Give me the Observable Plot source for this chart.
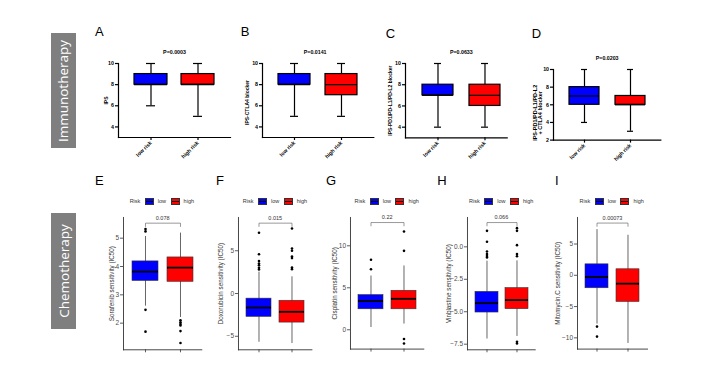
<!DOCTYPE html>
<html><head><meta charset="utf-8">
<script src="https://cdn.jsdelivr.net/npm/d3@7"></script>
<script src="https://cdn.jsdelivr.net/npm/@observablehq/plot@0.6"></script>
<style>
body{margin:0;background:#fff;}
#fig{position:relative;width:714px;height:379px;overflow:hidden;background:#fff;font-family:"Liberation Sans",Arial,sans-serif;}
.abs{position:absolute;}
.abs svg{display:block;background:transparent;}
.letter{position:absolute;font-size:13px;line-height:1;color:#000;}
.side{position:absolute;background:#7f7f7f;display:flex;align-items:center;justify-content:center;}
.side span{display:block;transform:rotate(-90deg);white-space:nowrap;font-family:"Open Sans",sans-serif;font-size:13.5px;color:#fff;}
.legend{position:absolute;display:flex;align-items:center;justify-content:center;font-size:5.5px;color:#333;height:8px;line-height:1;}
.key{display:inline-block;width:7px;height:5px;border:0.6px solid #333;margin:0 4px 0 4.5px;}
</style>
</head><body>
<div id="fig"></div>
<script>
// ---------------- data ----------------
const sideLabels = ["Immunotherapy", "Chemotherapy"];
const riskGroups = ["low risk", "high risk"];
const immunoLetters = ["A", "B", "C", "D"];
const immunoPValues = ["P=0.0003", "P=0.0141", "P=0.0633", "P=0.0203"];
const immunoYLabels = ["IPS", "IPS-CTLA4 blocker", "IPS-PD1/PD-L1/PD-L2 blocker", "IPS-PD1/PD-L1/PD-L2\n+ CTLA4 blocker"];
const immunoYDomains = [[3, 10], [3, 10], [3, 10], [2, 10]];
const immunoYTicks = [[4, 6, 8, 10], [4, 6, 8, 10], [4, 6, 8, 10], [2, 4, 6, 8, 10]];
// [whisker low, q1, median, q3, whisker high]
const immunoLowStats = [[6, 8, 8, 9, 10], [5, 8, 8, 9, 10], [4, 7, 7, 8, 10], [4, 6, 7, 8, 10]];
const immunoHighStats = [[5, 8, 8, 9, 10], [5, 7, 8, 9, 10], [4, 6, 7, 8, 10], [3, 6, 6, 7, 10]];

const chemoLetters = ["E", "F", "G", "H", "I"];
const chemoGroups = ["low", "high"];
const legendTitle = "Risk";
const chemoYLabels = ["Sorafenib sensitivity (IC50)", "Doxorubicin sensitivity (IC50)", "Cisplatin sensitivity (IC50)", "Vinblastine sensitivity (IC50)", "Mitomycin.C sensitivity (IC50)"];
const chemoPValues = ["0.078", "0.015", "0.22", "0.066", "0.00073"];
const chemoYDomains = [[1.06, 5.73], [-6.58, 8.89], [-2.3, 13.37], [-7.93, 2.26], [-11.8, 9.24]];
const chemoYTicks = [[2, 3, 4, 5], [-5, 0, 5], [0, 5, 10], [-7.5, -5, -2.5, 0], [-10, -5, 0, 5]];
const chemoYTickFormats = ["d", "d", "d", ".1f", "d"];
const chemoBracketY = [5.53, 8.23, 12.77, 1.87, 8.35];
const chemoLowStats = [[2.6, 3.49, 3.82, 4.18, 5.06], [-5.7, -2.73, -1.64, -0.6, 2.5], [0.27, 2.44, 3.42, 4.13, 6.4], [-7.1, -5.06, -4.34, -3.47, -1.1], [-7.8, -2.07, -0.27, 1.75, 7.3]];
const chemoHighStats = [[2.2, 3.46, 3.96, 4.32, 5.18], [-5.85, -3.4, -2.14, -0.85, 1.95], [0.68, 2.44, 3.69, 4.64, 7.6], [-6.9, -4.8, -4.1, -3.18, -1.08], [-10.9, -4.26, -1.34, 0.96, 6.4]];
const chemoLowOutliers = [[5.32, 5.24, 2.47, 1.7], [7.1, 4.6, 3.8, 3.5, 3.3, 3.0, 2.8], [8.33, 7.2], [1.23, 0.39, -0.36, -0.55, -0.7, -0.82], [-8.2, -9.8]];
const chemoHighOutliers = [[2.1, 2.03, 1.97, 1.92, 1.72, 1.3], [7.6, 5.26, 5.0, 4.33, 4.14, 3.04, 2.85], [11.7, 9.4, -1.1, -1.63], [1.44, 1.23, 0.13, -0.56, -0.72, -7.32, -7.45], []];

// ---------------- styles / layout ----------------
const riskColors = ["#0000ff", "#ff0000"];
const immunoLayout = [
  {fx: [118, 230], fy: [63.3, 137.3], pi: 0.305, po: 0.33, align: 0.5, titleDx: 0, labelOff: 12.3, labelDy: 0, labelSize: 5, letter: [95, 25]},
  {fx: [262, 373.3], fy: [62.7, 136.7], pi: 0.31, po: 0.316, align: 0.49, titleDx: -3, labelOff: 15.3, labelDy: 2, labelSize: 5, letter: [240.7, 25.3]},
  {fx: [405, 506.7], fy: [62.7, 137], pi: 0.33, po: 0.229, align: 0.717, titleDx: 5, labelOff: 15, labelDy: 0, labelSize: 5, letter: [385.7, 26.6]},
  {fx: [552.7, 660], fy: [68.7, 139.3], pi: 0.35, po: 0.335, align: 0.5, titleDx: 0, labelOff: 15.7, labelDy: 8, labelSize: 5.5, letter: [531.7, 26.6]}
];
const chemoLayout = [
  {fx: [122.7, 201], fy: [216.7, 349], labelOff: 11.7, letter: [95, 174]},
  {fx: [238.3, 311.7], fy: [216.7, 349], labelOff: 17.3, letter: [216, 174]},
  {fx: [350, 423.3], fy: [216.7, 348.3], labelOff: 16, letter: [326, 174]},
  {fx: [467.3, 535], fy: [216.7, 349], labelOff: 19, letter: [437.3, 174]},
  {fx: [576.7, 646.7], fy: [216.7, 348.3], labelOff: 19.4, letter: [555, 174.3]}
];
const sideLayout = [[51, 33, 25, 115], [51, 213, 25, 116]];

const fig = document.getElementById("fig");
function place(node, left, top, cls) {
  const d = document.createElement("div");
  d.className = cls || "abs";
  d.style.left = left + "px";
  d.style.top = top + "px";
  d.appendChild(node);
  fig.appendChild(d);
  return d;
}
function letter(txt, pos) {
  const d = document.createElement("div");
  d.className = "letter";
  d.textContent = txt;
  d.style.left = pos[0] + "px";
  d.style.top = pos[1] + "px";
  fig.appendChild(d);
}
function toRows(groups, lowS, highS) {
  return groups.map((g, k) => {
    const s = k === 0 ? lowS : highS;
    return {group: g, lo: s[0], q1: s[1], med: s[2], q3: s[3], hi: s[4]};
  });
}

// side labels
sideLabels.forEach((t, i) => {
  const [l, tp, w, h] = sideLayout[i];
  const d = document.createElement("div");
  d.className = "side";
  Object.assign(d.style, {left: l + "px", top: tp + "px", width: w + "px", height: h + "px"});
  const s = document.createElement("span");
  s.textContent = t;
  d.appendChild(s);
  fig.appendChild(d);
});

// ---------------- immunotherapy panels ----------------
immunoLetters.forEach((lt, i) => {
  const L = immunoLayout[i];
  const ml = 40, mr = 6, mt = 18, mb = 30;
  const width = L.fx[1] - L.fx[0] + ml + mr;
  const height = L.fy[1] - L.fy[0] + mt + mb;
  const rows = toRows(riskGroups, immunoLowStats[i], immunoHighStats[i]);
  const svg = Plot.plot({
    width, height, marginLeft: ml, marginRight: mr, marginTop: mt, marginBottom: mb,
    style: {fontFamily: "Liberation Sans, Arial, sans-serif", fontSize: "5.3px", fontWeight: "bold", background: "transparent", color: "#000", overflow: "visible"},
    x: {type: "band", domain: riskGroups, paddingInner: L.pi, paddingOuter: L.po, align: L.align},
    y: {domain: immunoYDomains[i], nice: false},
    color: {domain: riskGroups, range: riskColors},
    marks: [
      Plot.ruleX(rows, {x: "group", y1: "lo", y2: "hi", stroke: "#000", strokeWidth: 1.2}),
      Plot.tickY(rows, {x: "group", y: "lo", insetLeft: 12, insetRight: 12, stroke: "#000", strokeWidth: 1.2}),
      Plot.tickY(rows, {x: "group", y: "hi", insetLeft: 12, insetRight: 12, stroke: "#000", strokeWidth: 1.2}),
      Plot.barY(rows, {x: "group", y1: "q1", y2: "q3", fill: "group", stroke: "#000", strokeWidth: 1.2}),
      Plot.tickY(rows, {x: "group", y: "med", stroke: "#000", strokeWidth: 1.2}),
      Plot.frame({anchor: "left", stroke: "#000", strokeWidth: 1.2}),
      Plot.frame({anchor: "bottom", stroke: "#000", strokeWidth: 1.2}),
      Plot.axisY({ticks: immunoYTicks[i], tickFormat: "d", tickSize: 3, tickPadding: 1.5, label: null, stroke: "#000", strokeWidth: 1.2}),
      Plot.axisX({tickRotate: -45, tickSize: 3, tickPadding: 1.5, label: null, stroke: "#000", strokeWidth: 1.2, fill: "#000"}),
      Plot.text([immunoYLabels[i]], {frameAnchor: "left", rotate: -90, dx: -L.labelOff, dy: L.labelDy, text: d => d, fontSize: L.labelSize, lineAnchor: "middle", textAnchor: "middle", lineHeight: 0.9}),
      Plot.text([immunoPValues[i]], {frameAnchor: "top", dy: -11, dx: L.titleDx, text: d => d, lineAnchor: "middle"})
    ]
  });
  place(svg, L.fx[0] - ml, L.fy[0] - mt);
  letter(lt, L.letter);
});

// ---------------- chemotherapy panels ----------------
chemoLetters.forEach((lt, i) => {
  const L = chemoLayout[i];
  const ml = 34, mr = 6, mt = 6, mb = 8;
  const width = L.fx[1] - L.fx[0] + ml + mr;
  const height = L.fy[1] - L.fy[0] + mt + mb;
  const rows = toRows(chemoGroups, chemoLowStats[i], chemoHighStats[i]);
  const outliers = [];
  chemoLowOutliers[i].forEach(v => outliers.push({group: chemoGroups[0], v}));
  chemoHighOutliers[i].forEach(v => outliers.push({group: chemoGroups[1], v}));
  const span = chemoYDomains[i][1] - chemoYDomains[i][0];
  const by = chemoBracketY[i];
  const tip = span * 0.025;
  const bracket = [
    {group: chemoGroups[0], y: by - tip}, {group: chemoGroups[0], y: by},
    {group: chemoGroups[1], y: by}, {group: chemoGroups[1], y: by - tip}
  ];
  const svg = Plot.plot({
    width, height, marginLeft: ml, marginRight: mr, marginTop: mt, marginBottom: mb,
    style: {fontFamily: "Liberation Sans, Arial, sans-serif", fontSize: "6.5px", background: "transparent", color: "#333", overflow: "visible"},
    x: {type: "band", domain: chemoGroups, paddingInner: 0.25, paddingOuter: 0.225},
    y: {domain: chemoYDomains[i], nice: false},
    color: {domain: chemoGroups, range: riskColors},
    marks: [
      Plot.ruleX(rows, {x: "group", y1: "lo", y2: "hi", stroke: "#555", strokeWidth: 0.9}),
      Plot.barY(rows, {x: "group", y1: "q1", y2: "q3", fill: "group", stroke: "#333", strokeWidth: 0.6}),
      Plot.tickY(rows, {x: "group", y: "med", stroke: "#000", strokeWidth: 1.8}),
      Plot.dot(outliers, {x: "group", y: "v", r: 1.3, fill: "#000", stroke: null}),
      Plot.line(bracket, {x: "group", y: "y", stroke: "#555", strokeWidth: 0.6}),
      Plot.text([chemoPValues[i]], {y: () => by, text: d => d, dy: -3.5, fontSize: 5.5, fill: "#333", lineAnchor: "bottom"}),
      Plot.frame({anchor: "left", stroke: "#333", strokeWidth: 0.9}),
      Plot.frame({anchor: "bottom", stroke: "#333", strokeWidth: 0.9}),
      Plot.axisY({ticks: chemoYTicks[i], tickFormat: chemoYTickFormats[i], tickSize: 3, tickPadding: 1.5, label: null, stroke: "#333", strokeWidth: 0.8, fill: "#4d4d4d"}),
      Plot.axisX({tickSize: 3, tickFormat: () => "", label: null, stroke: "#333", strokeWidth: 0.8}),
      Plot.text([chemoYLabels[i]], {frameAnchor: "left", rotate: -90, dx: -L.labelOff, text: d => d, fontSize: 6.3, fill: "#333", lineAnchor: "middle", textAnchor: "middle"})
    ]
  });
  place(svg, L.fx[0] - ml, L.fy[0] - mt);
  letter(lt, L.letter);

  // legend
  const lg = document.createElement("div");
  lg.className = "legend";
  Object.assign(lg.style, {left: L.fx[0] + "px", top: "197.5px", width: (L.fx[1] - L.fx[0]) + "px"});
  const addText = t => { const s = document.createElement("span"); s.textContent = t; lg.appendChild(s); };
  const addKey = c => {
    const s = document.createElement("span");
    s.className = "key";
    s.style.background = `linear-gradient(to bottom, ${c} 40%, #000 40%, #000 62%, ${c} 62%)`;
    lg.appendChild(s);
  };
  addText(legendTitle);
  addKey(riskColors[0]);
  addText(chemoGroups[0]);
  addKey(riskColors[1]);
  addText(chemoGroups[1]);
  fig.appendChild(lg);
});
</script>
</body></html>
